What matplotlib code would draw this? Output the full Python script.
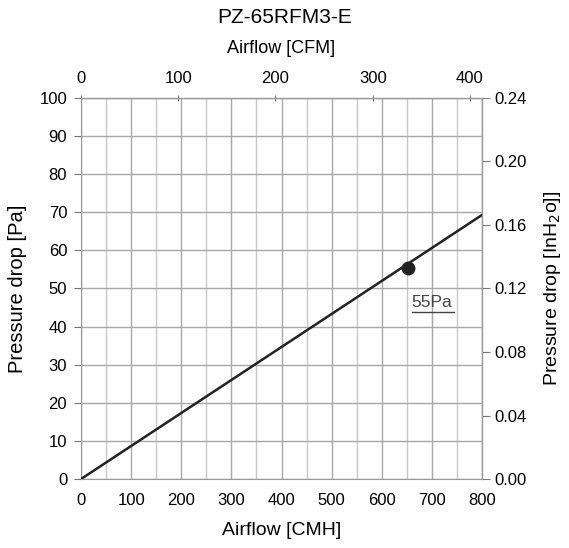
import matplotlib.pyplot as plt
import numpy as np

plt.rcParams["font.family"] = ["Liberation Sans", "DejaVu Sans"]

title = "PZ-65RFM3-E"
airflow_cmh = [0, 800]
pressure_pa = [0, 69.3]
point_cmh = 652
point_pa = 55.4
point_label = "55Pa"
cmh_per_cfm = 1.94  # as drawn on the chart's top scale
pa_to_inh2o = 0.24 / 100  # scale used by right axis

cmh_ticks = np.arange(0, 801, 100)
cfm_ticks = [0, 100, 200, 300, 400]
pa_ticks = np.arange(0, 101, 10)
inh2o_ticks = [0.00, 0.04, 0.08, 0.12, 0.16, 0.20, 0.24]

fig = plt.figure(figsize=(5.69, 5.48), dpi=100)
ax = fig.add_axes([0.1424, 0.1259, 0.7047, 0.6953])

ax.set_xlim(0, 800)
ax.set_ylim(0, 100)
ax.set_xticks(cmh_ticks)
ax.set_xticks(np.arange(50, 800, 100), minor=True)
ax.set_yticks(pa_ticks)
ax.grid(True, which="major", color="#a8a8a8", lw=1.0)
ax.grid(True, which="minor", axis="x", color="#c8c8c8", lw=1.0)
ax.tick_params(which="minor", length=0)
ax.tick_params(axis="x", which="major", length=0, labelsize=12, pad=10)
ax.tick_params(axis="y", which="major", direction="out", length=5, labelsize=12,
               color="#777777", pad=5)
for s in ax.spines.values():
    s.set_color("#999999")

ax.plot(airflow_cmh, pressure_pa, color="#222222", lw=1.8, zorder=3)
ax.plot(point_cmh, point_pa, "o", color="#222222", ms=9, zorder=4)
ax.text(point_cmh + 7, point_pa - 11, point_label, fontsize=12.5, color="#444444",
        ha="left", va="bottom")
ax.plot([point_cmh + 8, point_cmh + 92], [point_pa - 11.6, point_pa - 11.6],
        color="#444444", lw=1.0)

ax.set_xlabel("Airflow [CMH]", fontsize=14, labelpad=10)
ax.set_ylabel("Pressure drop [Pa]", fontsize=14.5, labelpad=9)

top = ax.secondary_xaxis("top", functions=(lambda x: x / cmh_per_cfm,
                                           lambda x: x * cmh_per_cfm))
top.set_xticks(cfm_ticks)
top.tick_params(direction="inout", length=5, labelsize=12, color="#777777", pad=6)
top.set_xlabel("Airflow [CFM]", fontsize=13, labelpad=13)

right = ax.secondary_yaxis("right", functions=(lambda y: y * pa_to_inh2o,
                                               lambda y: y / pa_to_inh2o))
right.set_yticks(inh2o_ticks)
right.set_yticklabels([f"{t:.2f}" for t in inh2o_ticks])
right.tick_params(direction="out", length=6, labelsize=12, color="#777777", pad=3)
right.set_ylabel("Pressure drop [InH$_2$o]]", fontsize=14, labelpad=11)

fig.suptitle(title, fontsize=15, y=0.985)

fig.savefig("out.png", dpi=100, facecolor="white")
